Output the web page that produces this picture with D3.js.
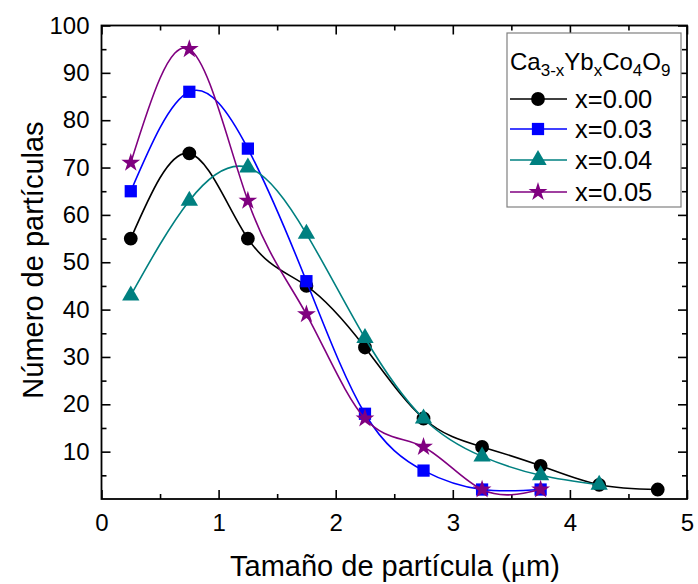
<!DOCTYPE html>
<html>
<head>
<meta charset="utf-8">
<script src="https://cdn.jsdelivr.net/npm/d3@7"></script>
<style>
  html, body { margin: 0; padding: 0; background: #fff; }
  svg { display: block; }
  text { font-family: "Liberation Sans", Arial, sans-serif; fill: #000; }
</style>
</head>
<body>
<svg id="chart" width="698" height="584"></svg>
<script>
// Particle size bins (µm) and counts for each Yb content
const sizes = [0.25, 0.75, 1.25, 1.75, 2.25, 2.75, 3.25, 3.75, 4.25, 4.75];
const countsX000 = [55, 73, 55, 45, 32, 17, 11, 7, 3, 2];
const countsX003 = [65, 86, 74, 46, 18, 6, 2, 2];
const countsX004 = [43, 63, 70, 56, 34, 17, 9, 5, 3];
const countsX005 = [71, 95, 63, 39, 17, 11, 2, 2];
const seriesLabels = ["x=0.00", "x=0.03", "x=0.04", "x=0.05"];
const xTickValues = [0, 1, 2, 3, 4, 5];
const yTickValues = [10, 20, 30, 40, 50, 60, 70, 80, 90, 100];

const svg = d3.select("#chart");
const plotLeft = 101.5, plotRight = 687, plotTop = 25.5, plotBottom = 499;

const x = d3.scaleLinear().domain([0, 5]).range([plotLeft, plotRight]);
const y = d3.scaleLinear().domain([0, 100]).range([plotBottom, plotTop]);

const series = [
  { label: seriesLabels[0], values: countsX000, color: "#000000", symbol: d3.symbolCircle, size: 150 },
  { label: seriesLabels[1], values: countsX003, color: "#0000ff", symbol: d3.symbolSquare, size: 150 },
  { label: seriesLabels[2], values: countsX004, color: "#008080", symbol: d3.symbolTriangle, size: 130 },
  { label: seriesLabels[3], values: countsX005, color: "#800080", symbol: d3.symbolStar, size: 110 }
];

// Axes with inward ticks on all four sides
const minorX = d3.range(0.5, 5, 1);
const minorY = d3.range(5, 100, 10);

function tickGroup(axis, transform) {
  const g = svg.append("g").attr("transform", transform).call(axis);
  g.select(".domain").remove();
  g.selectAll(".tick line").attr("stroke", "#000").attr("stroke-width", 1.6);
  return g;
}

const bx = tickGroup(d3.axisBottom(x).tickValues(xTickValues).tickSize(-9).tickPadding(15).tickFormat(d3.format("d")),
  `translate(0,${plotBottom})`);
bx.selectAll("text").attr("font-size", 24).attr("font-family", "Liberation Sans, Arial, sans-serif");
tickGroup(d3.axisBottom(x).tickValues(minorX).tickSize(-5).tickFormat(""), `translate(0,${plotBottom})`);
tickGroup(d3.axisTop(x).tickValues(xTickValues).tickSize(-9).tickFormat(""), `translate(0,${plotTop})`);
tickGroup(d3.axisTop(x).tickValues(minorX).tickSize(-5).tickFormat(""), `translate(0,${plotTop})`);

const ly = tickGroup(d3.axisLeft(y).tickValues(yTickValues).tickSize(-9).tickPadding(12).tickFormat(d3.format("d")),
  `translate(${plotLeft},0)`);
ly.selectAll("text").attr("font-size", 24).attr("font-family", "Liberation Sans, Arial, sans-serif");
tickGroup(d3.axisLeft(y).tickValues(minorY).tickSize(-5).tickFormat(""), `translate(${plotLeft},0)`);
tickGroup(d3.axisRight(y).tickValues(yTickValues).tickSize(-9).tickFormat(""), `translate(${plotRight},0)`);
tickGroup(d3.axisRight(y).tickValues(minorY).tickSize(-5).tickFormat(""), `translate(${plotRight},0)`);

// Frame
svg.append("rect")
  .attr("x", plotLeft).attr("y", plotTop)
  .attr("width", plotRight - plotLeft).attr("height", plotBottom - plotTop)
  .attr("fill", "none").attr("stroke", "#000").attr("stroke-width", 1.8);

// Smoothed curves and markers
const line = d3.line()
  .x((d, i) => x(sizes[i]))
  .y(d => y(d))
  .curve(d3.curveNatural);

series.forEach(s => {
  const g = svg.append("g");
  g.append("path")
    .attr("d", line(s.values))
    .attr("fill", "none")
    .attr("stroke", s.color)
    .attr("stroke-width", 1.6);
  g.selectAll("path.pt")
    .data(s.values)
    .join("path")
    .attr("class", "pt")
    .attr("transform", (d, i) => `translate(${x(sizes[i])},${y(d)})`)
    .attr("d", d3.symbol().type(s.symbol).size(s.size))
    .attr("fill", s.color);
});

// Legend
const lg = svg.append("g");
lg.append("rect")
  .attr("x", 507).attr("y", 33).attr("width", 174).attr("height", 174)
  .attr("fill", "#fff").attr("stroke", "#808080").attr("stroke-width", 1.2);

const title = lg.append("text").attr("x", 510).attr("y", 70).attr("font-size", 24);
[["Ca", 0], ["3-x", 1], ["Yb", 0], ["x", 1], ["Co", 0], ["4", 1], ["O", 0], ["9", 1]].forEach(([t, sub], i, arr) => {
  const ts = title.append("tspan").text(t);
  if (sub) ts.attr("font-size", 17).attr("dy", 6);
  else if (i > 0 && arr[i - 1][1]) ts.attr("dy", -6);
});

const rowY = [99, 129, 160, 192];
series.forEach((s, i) => {
  const yy = rowY[i];
  lg.append("line")
    .attr("x1", 510).attr("x2", 567).attr("y1", yy).attr("y2", yy)
    .attr("stroke", s.color).attr("stroke-width", 1.6);
  lg.append("path")
    .attr("transform", `translate(538,${yy})`)
    .attr("d", d3.symbol().type(s.symbol).size(s.size))
    .attr("fill", s.color);
  lg.append("text")
    .attr("x", 575).attr("y", yy).attr("dy", "0.36em")
    .attr("font-size", 25.5)
    .text(s.label);
});

// Axis titles
svg.append("text")
  .attr("x", 395).attr("y", 576)
  .attr("text-anchor", "middle").attr("font-size", 29)
  .call(t => {
    t.append("tspan").text("Tamaño de partícula (");
    t.append("tspan").attr("font-family", "Liberation Serif, Times New Roman, serif").text("μ");
    t.append("tspan").text("m)");
  });

svg.append("text")
  .attr("transform", `translate(43,260) rotate(-90)`)
  .attr("text-anchor", "middle").attr("font-size", 29)
  .text("Número de partículas");
</script>
</body>
</html>
